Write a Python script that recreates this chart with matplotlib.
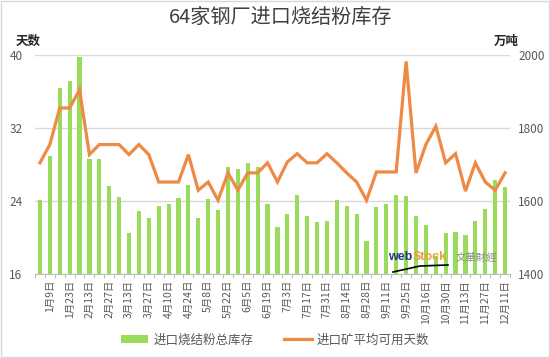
import numpy as np
import matplotlib
matplotlib.use("Agg")
import matplotlib.pyplot as plt
from matplotlib.patches import Patch
from matplotlib.lines import Line2D

plt.rcParams['font.family'] = ['Noto Sans CJK SC', 'DejaVu Sans']

# ---- data ----
tick_labels = ["1月9日", "1月23日", "2月13日", "2月27日", "3月13日", "3月27日",
               "4月10日", "4月24日", "5月8日", "5月22日", "6月5日", "6月19日",
               "7月3日", "7月17日", "7月31日", "8月14日", "8月28日", "9月11日",
               "9月25日", "10月16日", "10月30日", "11月13日", "11月27日", "12月11日"]

# 进口烧结粉总库存 (万吨, right axis)
inventory = [1603, 1724, 1909, 1929, 1995, 1715, 1715, 1642, 1612, 1514, 1574, 1555,
             1587, 1592, 1610, 1644, 1555, 1606, 1576, 1693, 1688, 1704, 1693, 1592,
             1529, 1565, 1616, 1560, 1544, 1547, 1603, 1587, 1565, 1490, 1583, 1592,
             1617, 1614, 1559, 1534, 1450, 1512, 1515, 1507, 1547, 1578, 1658, 1640]

# 进口矿平均可用天数 (天, left axis)
days = [28.2, 30.2, 34.2, 34.2, 36.2, 29.1, 30.2, 30.2, 30.2, 29.1, 30.2, 29.1,
        26.1, 26.1, 26.1, 29.1, 25.2, 26.1, 24.1, 27.1, 25.2, 27.1, 27.1, 28.2,
        26.1, 28.3, 29.2, 28.2, 28.2, 29.2, 28.2, 27.1, 26.1, 24.1, 27.2, 27.2,
        27.2, 39.3, 27.1, 30.2, 32.2, 28.2, 29.2, 25.1, 28.2, 26.1, 25.2, 27.1]

bar_name = "进口烧结粉总库存"
line_name = "进口矿平均可用天数"
title = "64家钢厂进口烧结粉库存"

bar_color = "#9BDB5C"
line_color = "#EE8A45"
text_gray = "#595959"
grid_gray = "#D9D9D9"

# ---- figure ----
fig = plt.figure(figsize=(5.5, 3.58), dpi=100)
W, H = 550, 358
ax2 = fig.add_axes([35 / W, 1 - 274.3 / H, (510 - 35) / W, (274.3 - 55) / H])
ax = ax2.twinx()

x = np.arange(len(inventory))

# bars on the right (tonnage) axis
ax2.bar(x, inventory, width=0.42, color=bar_color, zorder=2)
ax2.set_ylim(1400, 2000)
ax2.set_yticks([1400, 1600, 1800, 2000])
ax2.yaxis.tick_right()
ax2.yaxis.set_label_position("right")
ax2.grid(axis='y', color=grid_gray, linewidth=1.0, zorder=0)
ax2.set_axisbelow(True)

# line on the left (days) axis
ax.plot(x, days, color=line_color, linewidth=2.3, solid_joinstyle='miter', zorder=3)
ax.set_ylim(16, 40)
ax.set_yticks([16, 24, 32, 40])
ax.yaxis.tick_left()
ax.yaxis.set_label_position("left")
ax.set_zorder(ax2.get_zorder() + 1)
ax.patch.set_visible(False)

ax2.set_xlim(-0.5, len(inventory) - 0.5)
ax2.set_xticks(np.arange(1, len(inventory), 2))
ax2.set_xticklabels(tick_labels, rotation=90, fontsize=7.5, color=text_gray)
ax2.set_xticks(np.arange(-0.5, len(inventory), 1), minor=True)
ax2.tick_params(axis='x', which='major', length=0, pad=4)
ax2.tick_params(axis='x', which='minor', length=3, color="#BFBFBF", width=0.8)

for a in (ax, ax2):
    for s in a.spines.values():
        s.set_visible(False)
ax2.spines['bottom'].set_visible(True)
ax2.spines['bottom'].set_color("#BFBFBF")
ax2.spines['bottom'].set_linewidth(0.8)

ax.tick_params(axis='y', length=0, labelsize=8.5, labelcolor=text_gray, pad=9)
ax2.tick_params(axis='y', length=0, labelsize=8.5, labelcolor=text_gray, pad=6)
ax.tick_params(axis='x', length=0, labelbottom=False)

# titles / unit labels
fig.text(0.51, 1 - 17 / H, title, ha='center', va='center', fontsize=14.5, color="#404040")
fig.text(28 / W, 1 - 41 / H, "天数", ha='center', va='center', fontsize=9, color="#262626",
         fontweight='bold')
fig.text(506 / W, 1 - 41 / H, "万吨", ha='center', va='center', fontsize=9, color="#262626",
         fontweight='bold')

# watermark
fig.text(388 / W, 1 - 257 / H, "web", ha='left', va='center', fontsize=9,
         color="#1F3A7A", fontweight='bold', family='Liberation Sans')
fig.text(413 / W, 1 - 257 / H, "Stock", ha='left', va='center', fontsize=9,
         color="#E9A23B", fontweight='bold', family='Liberation Sans')
fig.text(456 / W, 1 - 258 / H, "文華財經", ha='left', va='center', fontsize=7.5,
         color="#8C8C8C")
fig.add_artist(Line2D([393 / W, 420 / W, 448 / W], [1 - 272 / H, 1 - 266 / H, 1 - 265 / H],
                      color="black", linewidth=1.2))

# legend
handles = [Patch(facecolor=bar_color, edgecolor='none'),
           Line2D([0], [0], color=line_color, linewidth=2.3)]
fig.legend(handles, [bar_name, line_name], loc='center', bbox_to_anchor=(0.5, 1 - 340 / H),
           ncol=2, frameon=False, fontsize=9, handlelength=2.2, handleheight=0.6,
           columnspacing=2.5, handletextpad=0.4, labelcolor=text_gray)

# light frame
fig.add_artist(plt.Rectangle((0.002, 0.003), 0.996, 0.994, transform=fig.transFigure,
                             fill=False, edgecolor="#D9D9D9", linewidth=1.0))

fig.savefig("out.png", dpi=100)
